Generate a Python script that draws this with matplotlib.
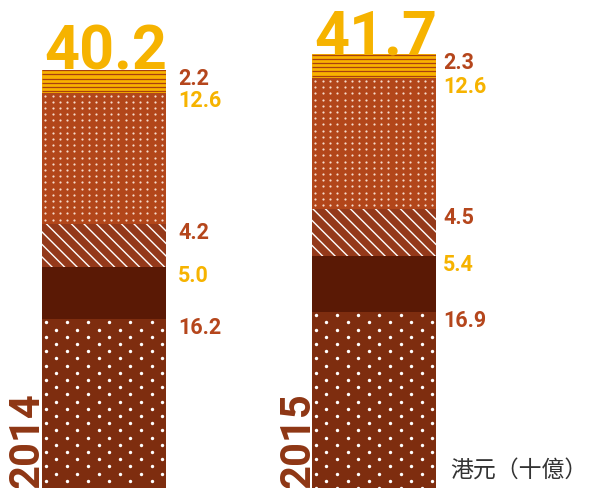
import numpy as np
import matplotlib.pyplot as plt
from matplotlib.collections import LineCollection

# HK$ billions, stacked bottom to top
years = ['2014', '2015']
totals = [40.2, 41.7]
seg_dotted = [16.2, 16.9]
seg_dark = [5.0, 5.4]
seg_hatch = [4.2, 4.5]
seg_fine = [12.6, 12.6]
seg_stripe = [2.2, 2.3]
unit_label = '港元（十億）'

BROWN_TXT = '#b5461c'
YELLOW_TXT = '#f6b300'

W, H = 589, 489
fig = plt.figure(figsize=(W / 100, H / 100), dpi=100)
ax = fig.add_axes([0, 0, 1, 1])
x_lo, x_hi = -0.385, 1.796
y_top = 47.0
ax.set_xlim(x_lo, x_hi)
ax.set_ylim(0, y_top)
ax.axis('off')

# pixels per data unit, used to lay out the fill patterns
kx = W / (x_hi - x_lo)
ky = H / y_top

xpos = np.arange(len(years))
width = 124 / kx

segments = [seg_dotted, seg_dark, seg_hatch, seg_fine, seg_stripe]
faces = ['#7e2d0f', '#5a1905', '#94391a', '#b2461a', '#f9b200']
styles = ['dots', None, 'hatch', 'fine', 'stripes']
label_colors = [BROWN_TXT, YELLOW_TXT, BROWN_TXT, YELLOW_TXT, BROWN_TXT]
label_pad = [12, 7]


def add_dots(p, dx, dy, offset_rows, x_start, size, color):
    x0, y0 = p.get_x(), p.get_y()
    x1, y1 = x0 + p.get_width(), y0 + p.get_height()
    pts = []
    v = y1 * ky - 3
    row = 0
    while v > y0 * ky:
        u = x0 * kx + x_start + (dx / 2 if (offset_rows and row % 2) else 0)
        while u < x1 * kx - 1:
            pts.append((u / kx, v / ky))
            u += dx
        v -= dy
        row += 1
    pts = np.array(pts)
    sc = ax.scatter(pts[:, 0], pts[:, 1], s=size, c=color, linewidths=0, zorder=3)
    sc.set_clip_path(p)


def add_hatch(p, step):
    x0, y0 = p.get_x() * kx, p.get_y() * ky
    x1, y1 = x0 + p.get_width() * kx, y0 + p.get_height() * ky
    lines = []
    c = x0 + y0 - 2
    while c < x1 + y1 + step:
        lines.append([((c - y0 + 30) / kx, (y0 - 30) / ky),
                      ((c - y1 - 30) / kx, (y1 + 30) / ky)])
        c += step
    lc = LineCollection(lines, colors='white', linewidths=1.0, zorder=3)
    ax.add_collection(lc)
    lc.set_clip_path(p)


def add_stripes(p, step):
    x0, x1 = p.get_x(), p.get_x() + p.get_width()
    y0, y1 = p.get_y() * ky, (p.get_y() + p.get_height()) * ky
    lines = []
    v = y1 - 0.5
    while v > y0 + 1:
        lines.append([(x0, v / ky), (x1, v / ky)])
        v -= step
    lc = LineCollection(lines, colors='#a9400f', linewidths=0.9, zorder=3)
    ax.add_collection(lc)
    lc.set_clip_path(p)


bottoms = np.zeros(len(years))
for vals, fc, st, lcol in zip(segments, faces, styles, label_colors):
    bars = ax.bar(xpos, vals, width, bottom=bottoms, color=fc, linewidth=0,
                  align='center', zorder=2)
    for i, p in enumerate(bars.patches):
        if st == 'dots':
            add_dots(p, 21.2, 7.2, True, 3.7, 6, 'white')
        elif st == 'fine':
            add_dots(p, 7.3, 6.2, False, 3.3, 2.5, '#f6dccc')
        elif st == 'hatch':
            add_hatch(p, 12.5)
        elif st == 'stripes':
            add_stripes(p, 4.2)
        top = bottoms[i] + vals[i]
        ax.text(xpos[i] + width / 2 + label_pad[i] / kx, top - 0.75,
                f'{vals[i]:.1f}', ha='left', va='center', fontsize=15.5,
                fontweight='bold', family='Roboto', color=lcol)
    bottoms = bottoms + np.array(vals)

for i, (yr, tot) in enumerate(zip(years, totals)):
    ax.text(xpos[i] - width / 2 + 2 / kx, tot + 0.1, f'{tot:.1f}',
            ha='left', va='baseline', fontsize=44, fontweight='bold',
            family='Roboto', color=YELLOW_TXT)
    ax.text(xpos[i] - width / 2 + 6 / kx, 0.05, yr, rotation=90,
            ha='right', va='bottom', fontsize=30, fontweight='bold',
            family='Roboto', color='#8e3614')

fig.text(587 / W, 1 - 470 / H, unit_label, ha='right', va='center',
         fontsize=16.5, color='#333333',
         family=['Noto Sans CJK TC', 'DejaVu Sans'])

fig.savefig('out.png', dpi=100)
